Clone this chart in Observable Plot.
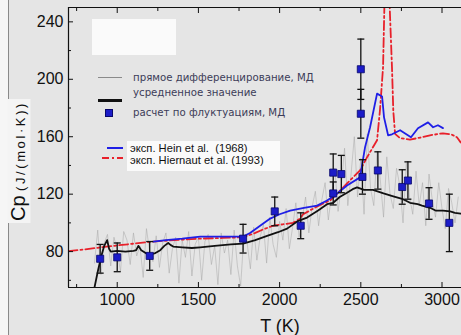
<!DOCTYPE html>
<html><head><meta charset="utf-8">
<script src="https://cdn.jsdelivr.net/npm/d3@7"></script>
<script src="https://cdn.jsdelivr.net/npm/@observablehq/plot@0.6"></script>
<style>
html,body{margin:0;padding:0;background:#e5e5e5;}
#wrap{position:relative;width:461px;height:335px;overflow:hidden;background:#e5e5e5;font-family:"Liberation Sans",Arial,sans-serif;}
.abs{position:absolute;}
.ltxt{position:absolute;font-family:"DejaVu Sans",sans-serif;font-size:10.2px;color:#3c3c58;white-space:pre;line-height:12px;}
.ltxt2{position:absolute;font-family:"Liberation Sans",Arial,sans-serif;font-size:11.2px;color:#111;white-space:pre;line-height:10px;}
#plot svg{position:absolute;left:0;top:0;}
</style></head><body><div id="wrap"><div id="plot"></div></div>
<script>
// averaged MD curve (black)
const blackT  = [860,880,900,920,938,950,960,1000,1050,1100,1117,1130,1148,1175,1203,1235,1265,1290,1314,1330,1345,1400,1460,1511,1600,1700,1775,1850,1923,1990,2046,2108,2169,2237,2292,2330,2370,2415,2450,2477,2520,2575,2640,2700,2760,2803,2850,2877,2926,2960,3006,3050,3080,3115];
const blackCp = [55,66,76,84,88,82,80,80.5,80,80.5,81,84,81,79,78,79,81,84,86,84.5,83.5,83,82.5,83,84,85,85.6,88,91,93.5,96,101,103.7,108.6,113,114,118,121,123.5,124.7,123,123,120.5,118.5,116.5,114,113,112,110.5,108.6,108.6,108,107,106.5];
// Hein et al. 1968 (blue)
const heinT  = [1222,1300,1400,1511,1650,1775,1818,1880,1942,2000,2065,2150,2231,2292,2311,2360,2415,2495,2526,2557,2600,2631,2643,2668,2692,2742,2809,2852,2914,2945,2975,3006];
const heinCp = [87,88,89,90.5,90.5,90.5,93,98,103,106,108.6,110.5,112,115.6,117,121,126,131.7,152.6,166.6,190,188,173.5,161,161.7,164.5,159.6,165.9,170,166.6,168,166];
// Hiernaut et al. 1993 (red dash-dot)
const hierT  = [700,800,900,1000,1100,1222,1350,1500,1650,1775,1850,1900,1960,2020,2083,2126,2145,2200,2250,2311,2360,2415,2495,2538,2600,2618,2637,2645,2660,2678,2692,2700,2711,2742,2803,2870,2926,3006,3060,3092,3115];
const hierCp = [80.3,81.5,83,84.3,85.5,87,88,89,89.5,90,93,95.5,98,99,100,103,106,109.5,112.5,115.6,121,127.5,136.5,145.6,157.5,178.5,208.5,250,300,250,208,178,162,159,158,159.5,161,162.4,161.5,159.6,156];
// fluctuation points (blue squares) with error bars
const fluxT   = [895,1000,1200,1775,1970,2130,2330,2330,2380,2500,2500,2510,2605,2755,2790,2920,3045];
const fluxCp  = [75,76,77,89,108,98,135,120.5,134,207,176,132,136.5,125,129.5,113.5,100];
const fluxErr = [10,10,10,10,10,9,13,8,13,21,17,12,13,12,13,11,20];
// direct differentiation (grey, noisy)
const grayT  = [860,880,900,920,940,960,980,1000,1020,1040,1060,1080,1100,1120,1140,1160,1180,1200,1220,1240,1260,1280,1300,1320,1340,1360,1380,1400,1420,1440,1460,1480,1500,1520,1540,1560,1580,1600,1620,1640,1660,1680,1700,1720,1740,1760,1780,1800,1820,1840,1860,1880,1900,1920,1940,1960,1980,2000,2020,2040,2060,2080,2100,2120,2140,2160,2180,2200,2220,2240,2260,2280,2300,2320,2340,2360,2380,2400,2420,2440,2460,2480,2500,2520,2540,2560,2580,2600,2620,2640,2660,2680,2700,2720,2740,2760,2780,2800,2820,2840,2860,2880,2900,2920,2940,2960,2980,3000,3020,3040,3060,3080,3100];
const grayCp = [72,95,64,86,92,70,90,81,66,94,88,71,93,
  77,84,62,96,80,73,91,69,86,93,65,82,90,58,88,76,94,63,85,90,
  60,87,92,71,84,57,93,79,88,64,95,70,56,91,86,68,97,74,90,99,72,104,85,76,101,
  88,110,82,97,114,90,104,118,93,111,122,98,116,128,102,120,138,108,126,152,112,134,160,118,145,
  106,162,124,112,150,130,104,146,120,110,138,126,100,142,118,106,136,112,128,98,134,116,104,128,110,96,124,114,100,118];
// axis ticks
const xTicks = [1000,1500,2000,2500,3000];
const xMinor = [750,1250,1750,2250,2750];
const yTicks = [80,120,160,200,240];
const yMinor = [60,100,140,180,220];
const xDomain = [700,3120];
const yDomain = [55,250];

const toRows = (T, V) => T.map((t,i)=>({T:t, Cp:V[i]}));
const black = toRows(blackT, blackCp);
const hein = toRows(heinT, heinCp);
const hier = toRows(hierT, hierCp);
const gray = toRows(grayT, grayCp);
const flux = fluxT.map((t,i)=>({T:t, Cp:fluxCp[i], lo:fluxCp[i]-fluxErr[i], hi:fluxCp[i]+fluxErr[i]}));
const cap = {draw(ctx){ ctx.moveTo(-3.5,0); ctx.lineTo(3.5,0); }};

const chart = Plot.plot({
  width: 461, height: 335,
  marginLeft: 68, marginTop: 7, marginRight: 0, marginBottom: 48,
  style: {background: "transparent", fontFamily: "Liberation Sans, Arial, sans-serif", color: "#111"},
  x: {domain: xDomain},
  y: {domain: yDomain},
  marks: [
    Plot.line(gray, {x: "T", y: "Cp", stroke: "#a6a6a6", strokeWidth: 0.6, strokeOpacity: 0.85, clip: true}),
    Plot.line(hier, {x: "T", y: "Cp", stroke: "#e8202a", strokeWidth: 1.8, strokeDasharray: "9,3,2,3", clip: true}),
    Plot.line(hein, {x: "T", y: "Cp", stroke: "#1f1fe6", strokeWidth: 1.8}),
    Plot.line(black, {x: "T", y: "Cp", stroke: "#111", strokeWidth: 1.8, clip: true}),
    Plot.ruleX(flux, {x: "T", y1: "lo", y2: "hi", stroke: "#111", strokeWidth: 1.3}),
    Plot.dot(flux, {x: "T", y: "hi", symbol: cap, stroke: "#111", strokeWidth: 1.3, fill: "none"}),
    Plot.dot(flux, {x: "T", y: "lo", symbol: cap, stroke: "#111", strokeWidth: 1.3, fill: "none"}),
    Plot.dot(flux, {x: "T", y: "Cp", symbol: "square", r: 4, fill: "#1c1cc8", stroke: "#08086a", strokeWidth: 0.8}),
    Plot.ruleX([xDomain[0]], {stroke: "#111", strokeWidth: 1.2}),
    Plot.ruleY([yDomain[0], yDomain[1]], {stroke: "#111", strokeWidth: 1.2}),
    Plot.axisX(xTicks, {anchor: "bottom", tickSize: -5, tickPadding: 11, fontSize: 16, label: null, tickFormat: d => String(d)}),
    Plot.axisX(xMinor, {anchor: "bottom", tickSize: -3, tickFormat: () => "", label: null}),
    Plot.axisX(xTicks, {anchor: "top", tickSize: -5, tickFormat: () => "", label: null}),
    Plot.axisX(xMinor, {anchor: "top", tickSize: -3, tickFormat: () => "", label: null}),
    Plot.axisY(yTicks, {anchor: "left", tickSize: -5, tickPadding: 10, fontSize: 16, label: null, tickFormat: d => String(d)}),
    Plot.axisY(yMinor, {anchor: "left", tickSize: -3, tickFormat: () => "", label: null})
  ]
});
const wrap = document.getElementById("wrap");
document.getElementById("plot").appendChild(chart);

function add(html){ const d = document.createElement("div"); d.innerHTML = html; wrap.appendChild(d.firstElementChild); }
// left strip
add('<div class="abs" style="left:0;top:0;width:8px;height:335px;background:#f6f6f6;border-right:1px solid #8a8a8a;"></div>');
// white boxes
add('<div class="abs" style="left:92px;top:19px;width:84px;height:36px;background:#fafafa;"></div>');
add('<div class="abs" style="left:127px;top:141px;width:153px;height:30px;background:#fafafa;"></div>');
// legend
add('<div class="abs" style="left:98px;top:77px;width:24px;height:1.3px;background:#8a8a8a;"></div>');
add('<div class="ltxt" style="left:133px;top:72px;">прямое дифференцирование, МД</div>');
add('<div class="abs" style="left:98px;top:98.5px;width:24px;height:3px;background:#111;"></div>');
add('<div class="ltxt" style="left:133px;top:87px;">усредненное значение</div>');
add('<div class="abs" style="left:105px;top:109px;width:8px;height:8px;background:#1c1cc8;border:0.8px solid #08086a;box-sizing:border-box;"></div>');
add('<div class="ltxt" style="left:133px;top:107px;">расчет по флуктуациям, МД</div>');
add('<div class="abs" style="left:107px;top:147px;width:16px;height:2px;background:#1f1fe6;"></div>');
add('<div class="ltxt2" style="left:130px;top:143px;">эксп. Hein et al.  (1968)</div>');
add('<svg class="abs" style="left:100px;top:154px;" width="24" height="8"><line x1="2" y1="4" x2="23" y2="4" stroke="#e8202a" stroke-width="1.8" stroke-dasharray="7,3,2,3"/></svg>');
add('<div class="ltxt2" style="left:130px;top:155px;">эксп. Hiernaut et al. (1993)</div>');
// axis titles
add('<div class="abs" style="left:280px;top:326px;transform:translate(-50%,-50%);font-size:18px;color:#111;white-space:pre;">T (K)</div>');
add('<div class="abs" style="left:19px;top:161px;transform:translate(-50%,-50%) rotate(-90deg);white-space:pre;color:#111;background:#f4f4f4;padding:0 2px;line-height:20px;"><span style="font-size:20px;">Cp</span> <span style="font-size:13px;letter-spacing:2.6px;">(J/(mol·K))</span></div>');
</script>
</body></html>
